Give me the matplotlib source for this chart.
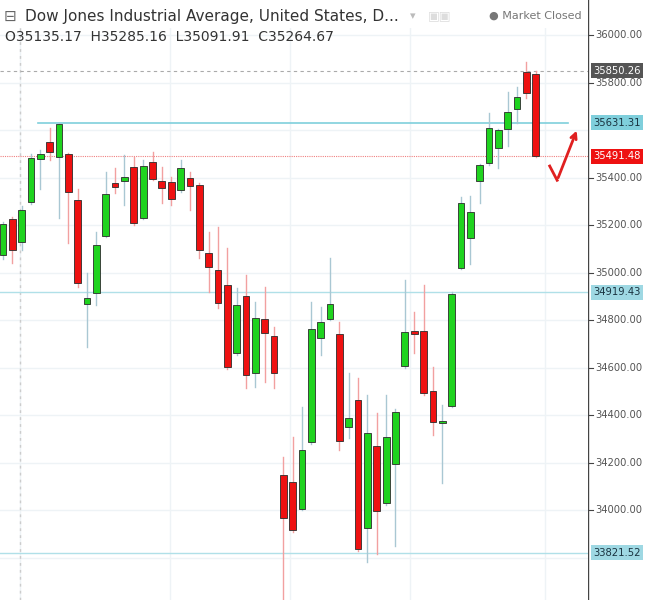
import matplotlib.pyplot as plt
import matplotlib.patches as patches
import numpy as np

# OHLC values (daily candles, left to right)
opens = [35076, 35227, 35131, 35299, 35480, 35552, 35488, 35501, 35307, 34869,
         34916, 35156, 35379, 35387, 35446, 35232, 35467, 35387, 35383, 35349,
         35400, 35370, 35084, 35013, 34949, 34663, 34903, 34579, 34806, 34735,
         34150, 34120, 34006, 34289, 34726, 34806, 34743, 34352, 34465, 33926,
         34272, 34032, 34196, 34608, 34756, 34756, 34503, 34370, 34440, 35021,
         35147, 35387, 35463, 35526, 35606, 35691, 35846, 35838]
highs = [35215, 35235, 35282, 35501, 35518, 35610, 35631, 35505, 35354, 35000,
         35173, 35425, 35442, 35497, 35488, 35476, 35509, 35446, 35404, 35476,
         35425, 35378, 35173, 35194, 35105, 34937, 34992, 34878, 34941, 34773,
         34225, 34310, 34436, 34878, 34857, 35063, 34794, 34579, 34558, 34486,
         34411, 34486, 34427, 34971, 34836, 34949, 34604, 34444, 34920, 35320,
         35324, 35460, 35674, 35606, 35762, 35783, 35888, 35850]
lows = [35060, 35042, 35097, 35290, 35354, 35476, 35232, 35126, 34941, 34688,
        34865, 35150, 35337, 35286, 35200, 35225, 35390, 35295, 35286, 35340,
        35265, 35063, 34920, 34853, 34595, 34655, 34516, 34520, 34541, 34516,
        33623, 33910, 34000, 34280, 34655, 34800, 34255, 34305, 33830, 33783,
        33817, 34025, 33850, 34600, 34663, 34486, 34318, 34116, 34435, 35015,
        35038, 35295, 35455, 35442, 35535, 35631, 35737, 35488]
closes = [35206, 35097, 35265, 35484, 35501, 35509, 35627, 35341, 34958, 34895,
          35118, 35333, 35362, 35404, 35211, 35451, 35396, 35358, 35312, 35442,
          35366, 35097, 35025, 34874, 34604, 34865, 34571, 34811, 34747, 34579,
          33968, 33918, 34255, 34764, 34794, 34869, 34293, 34390, 33838, 34326,
          33998, 34310, 34415, 34752, 34743, 34495, 34373, 34377, 34912, 35295,
          35257, 35455, 35611, 35602, 35678, 35741, 35758, 35491]

level_values = [35850.26, 35631.31, 35491.48, 34919.43, 33821.52]
level_colors = ["#555555", "#7fcfdc", "#f03030", "#b0e0e8", "#b0e0e8"]
axis_ticks = [36000, 35800, 35400, 35200, 35000, 34800, 34600, 34400, 34200, 34000]

UP = "#1fd31f"
DOWN = "#ee1111"
EDGE = "#2b2b2b"

fig = plt.figure(figsize=(6.52, 6.00), dpi=100)
ax = fig.add_axes([0, 0, 588 / 652, 1])

ymin, ymax = 33623, 36149
ax.set_ylim(ymin, ymax)
ax.set_xlim(-0.32, 62.6)
ax.axis("off")

# light grid
for t in np.arange(33800, 36200, 200):
    ax.axhline(t, color="#eef3f6", linewidth=1, zorder=0)
for gx in [1.8, 17.9, 30.7, 43.5, 58.0]:
    ax.axvline(gx, color="#eef3f6", linewidth=1, zorder=0)
ax.axvline(1.8, color="#cccccc", linewidth=1, linestyle=(0, (2, 3)), zorder=0)

# horizontal levels
ax.axhline(level_values[0], color="#aaaaaa", linewidth=0.8, linestyle=(0, (3, 3)), zorder=1)
ax.plot([3.7, 60.5], [level_values[1]] * 2, color=level_colors[1], linewidth=1.2, zorder=1)
ax.axhline(level_values[2], color="#f08080", linewidth=0.8, linestyle=(0, (1, 1)), zorder=1)
ax.axhline(level_values[3], color=level_colors[3], linewidth=1, zorder=1)
ax.axhline(level_values[4], color=level_colors[4], linewidth=1, zorder=1)

# candles
for i, (o, h, l, c) in enumerate(zip(opens, highs, lows, closes)):
    col = UP if c >= o else DOWN
    wick = "#a9c7d3" if c >= o else "#f2a0a0"
    ax.plot([i, i], [l, h], color=wick, linewidth=1, zorder=2)
    bottom = min(o, c)
    height = max(abs(c - o), 8)
    ax.add_patch(patches.Rectangle((i - 0.36, bottom), 0.72, height,
                                   facecolor=col, edgecolor=EDGE,
                                   linewidth=0.6, zorder=3))

# red check-mark arrow
ax.plot([58.5, 59.3], [35450, 35390], color="#e02020", linewidth=2, zorder=4)
ax.annotate("", xy=(61.5, 35610), xytext=(59.3, 35390),
            arrowprops=dict(arrowstyle="->", color="#e02020", lw=2), zorder=4)

# right price axis
pax = fig.add_axes([588 / 652, 0, 64 / 652, 1])
pax.set_ylim(ymin, ymax)
pax.set_xlim(0, 1)
pax.axis("off")
pax.axvline(0, color="#444444", linewidth=1)
for t in axis_ticks:
    pax.plot([0, 0.08], [t, t], color="#444444", linewidth=0.8)
    pax.text(0.12, t, f"{t:.2f}", fontsize=7.2, color="#555555", va="center")
label_faces = ["#555555", "#7fcfdc", "#ee1111", "#9ed8e3", "#9ed8e3"]
label_text = ["white", "#1a3340", "white", "#1a3340", "#1a3340"]
for v, fc, tc in zip(level_values, label_faces, label_text):
    pax.text(0.08, v, f"{v:.2f}", fontsize=7.2, color=tc, va="center",
             bbox=dict(boxstyle="square,pad=0.25", facecolor=fc, edgecolor="none"))

# header
fig.patches.append(patches.Rectangle((0, 1 - 28 / 600), 585 / 652, 28 / 600,
                                     transform=fig.transFigure, facecolor="white",
                                     edgecolor="none", zorder=5))
fig.text(0.005, 1 - 16 / 600, "\u229f", fontsize=11, color="#666666", va="center", zorder=6)
fig.text(0.038, 1 - 16 / 600, "Dow Jones Industrial Average, United States, D...",
         fontsize=11, color="#333333", va="center", zorder=6)
fig.text(410 / 652, 1 - 16 / 600, "\u25be", fontsize=8, color="#bbbbbb", va="center", zorder=6)
fig.text(428 / 652, 1 - 16 / 600, "\u25a3\u25a3", fontsize=9, color="#dddddd", va="center", zorder=6)
fig.text(582 / 652, 1 - 16 / 600, "\u25cf Market Closed", fontsize=8, color="#777777",
         va="center", ha="right", zorder=6)
fig.text(0.008, 1 - 37 / 600, "O35135.17  H35285.16  L35091.91  C35264.67",
         fontsize=10, color="#333333", va="center", zorder=6)

fig.savefig("out.png", dpi=100)
